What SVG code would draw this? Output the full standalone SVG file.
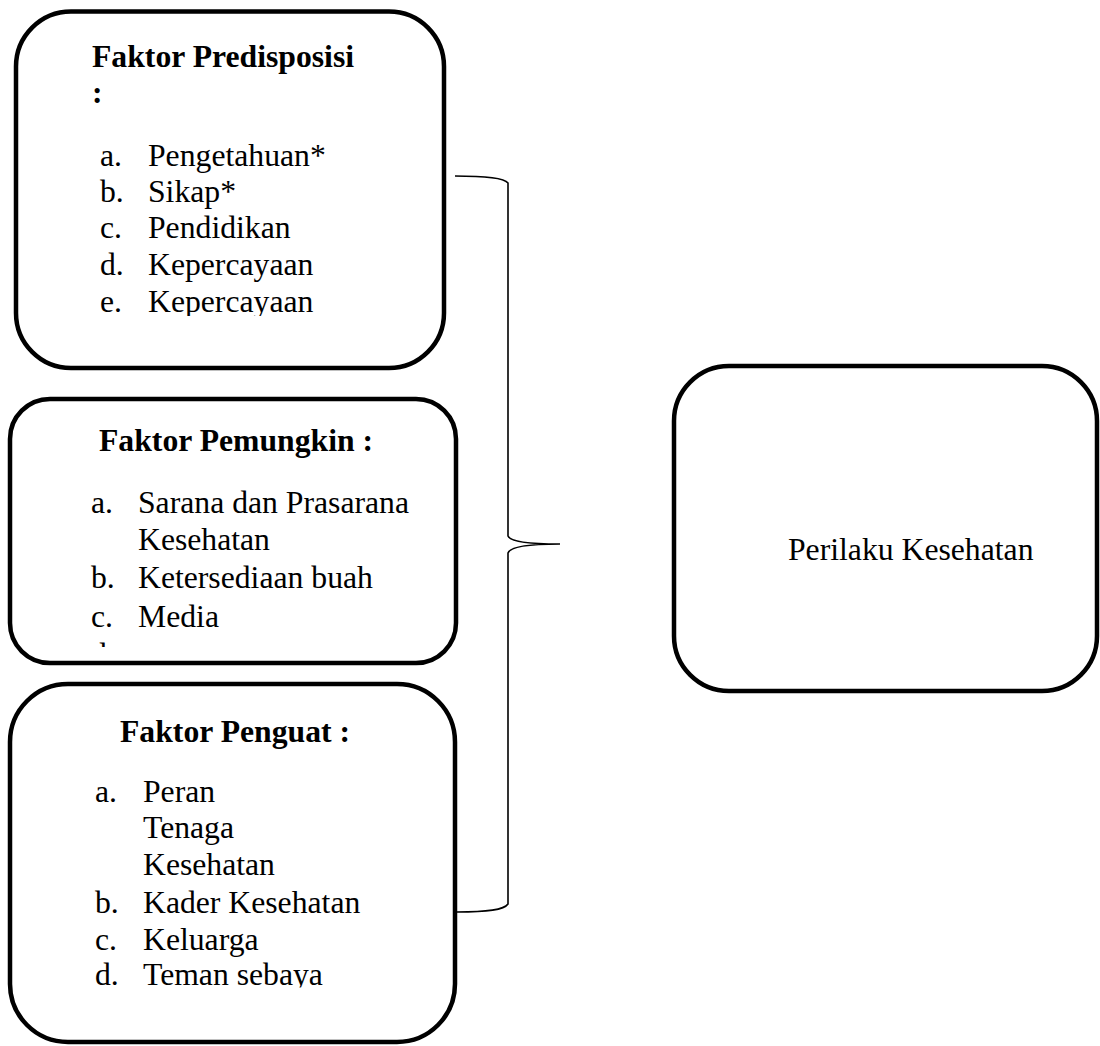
<svg xmlns="http://www.w3.org/2000/svg" width="1100" height="1046" viewBox="0 0 1100 1046">
<style>
.box{fill:#fff;stroke:#000;stroke-width:4.5}
.t{font-family:"Liberation Serif","Times New Roman",serif;font-size:31.7px;fill:#000}
.b{font-weight:bold}
.br{fill:none;stroke:#000;stroke-width:1.6}
</style>
<defs>
<clipPath id="c1"><rect x="0" y="0" width="460" height="316"/></clipPath>
<clipPath id="c2"><rect x="0" y="380" width="470" height="267"/></clipPath>
<clipPath id="c3"><rect x="0" y="670" width="470" height="317.5"/></clipPath>
</defs>
<rect width="1100" height="1046" fill="#fff"/>
<g id="connectors">
<path class="br" d="M455,176 C488,176 504,178 508,183 L508,536 C510,541 528,544 560,544 C528,544 510,547 508,553 L508,904 C504,910 488,912 457,912"/>
</g>
<g id="predisposisi">
<rect class="box" x="16" y="11.5" width="428" height="356.5" rx="55" ry="55"/>
<text class="t b" x="92" y="67">Faktor Predisposisi</text>
<text class="t b" x="92" y="103">:</text>
<g clip-path="url(#c1)">
<text class="t" x="100" y="166">a.</text><text class="t" x="148" y="166">Pengetahuan*</text>
<text class="t" x="100" y="202">b.</text><text class="t" x="148" y="202">Sikap*</text>
<text class="t" x="100" y="238">c.</text><text class="t" x="148" y="238">Pendidikan</text>
<text class="t" x="100" y="275">d.</text><text class="t" x="148" y="275">Kepercayaan</text>
<text class="t" x="100" y="312">e.</text><text class="t" x="148" y="312">Kepercayaan</text>
</g>
</g>
<g id="pemungkin">
<rect class="box" x="10" y="399" width="446" height="264" rx="40" ry="40"/>
<text class="t b" x="99" y="451">Faktor Pemungkin :</text>
<g clip-path="url(#c2)">
<text class="t" x="91" y="513">a.</text><text class="t" x="138" y="513">Sarana dan Prasarana</text>
<text class="t" x="138" y="550">Kesehatan</text>
<text class="t" x="91" y="588">b.</text><text class="t" x="138" y="588">Ketersediaan buah</text>
<text class="t" x="91" y="627">c.</text><text class="t" x="138" y="627">Media</text>
<text class="t" x="91" y="665">d.</text>
</g>
</g>
<g id="penguat">
<rect class="box" x="10" y="684" width="445" height="358" rx="58" ry="58"/>
<text class="t b" x="120" y="742">Faktor Penguat :</text>
<g clip-path="url(#c3)">
<text class="t" x="95" y="802">a.</text><text class="t" x="143" y="802">Peran</text>
<text class="t" x="143" y="838">Tenaga</text>
<text class="t" x="143" y="875">Kesehatan</text>
<text class="t" x="95" y="913">b.</text><text class="t" x="143" y="913">Kader Kesehatan</text>
<text class="t" x="95" y="950">c.</text><text class="t" x="143" y="950">Keluarga</text>
<text class="t" x="95" y="985">d.</text><text class="t" x="143" y="985">Teman sebaya</text>
</g>
</g>
<g id="perilaku">
<rect class="box" x="674" y="366" width="423" height="325" rx="55" ry="55"/>
<text class="t" x="788" y="560">Perilaku Kesehatan</text>
</g>
</svg>
